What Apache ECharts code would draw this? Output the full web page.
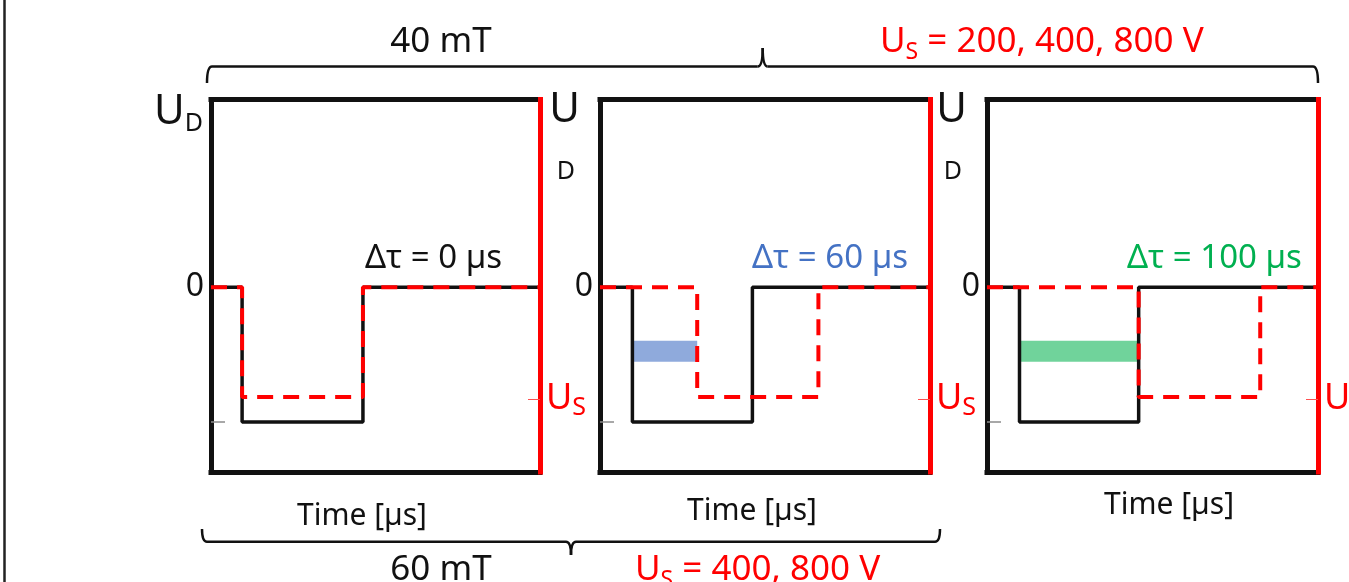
<!DOCTYPE html>
<html>
<head>
<meta charset="utf-8">
<script src="https://cdn.jsdelivr.net/npm/echarts@6/dist/echarts.min.js"></script>
<style>
html,body{margin:0;padding:0;background:#fff;}
#chart{width:1349px;height:582px;}
</style>
</head>
<body>
<div id="chart"></div>
<script>
// ---- data ----
const timeRange = [0, 275];          // µs (arbitrary scale)
const voltRange = [-185, 188];       // arbitrary units
const blackLowLevel = -135;          // discharge voltage level (U_D pulse)
const redLowLevel = -110;            // substrate bias level (U_S)
const barLevel = -64;
const deltaTauLabels = ['Δτ = 0 µs', 'Δτ = 60 µs', 'Δτ = 100 µs'];
const deltaTauColors = ['#111111', '#4472c4', '#00b050'];
const barColors = [null, '#8faadc', '#70d39b'];

const panel1Black = [[0,0],[26,0],[26,-135],[127,-135],[127,0],[275,0]];
const panel1Red   = [[0,0],[26,0],[26,-110],[127,-110],[127,0],[275,0]];
const panel2Black = [[0,0],[27,0],[27,-135],[127,-135],[127,0],[275,0]];
const panel2Red   = [[0,0],[81,0],[81,-110],[182,-110],[182,0],[275,0]];
const panel2Bar   = [[27,-64],[81,-64]];
const panel3Black = [[0,0],[27,0],[27,-135],[126,-135],[126,0],[275,0]];
const panel3Red   = [[0,0],[126,0],[126,-110],[227,-110],[227,0],[275,0]];
const panel3Bar   = [[27,-64],[126,-64]];

const blackSeries = [panel1Black, panel2Black, panel3Black];
const redSeries = [panel1Red, panel2Red, panel3Red];
const barSeries = [null, panel2Bar, panel3Bar];

// ---- layout ----
const grids = [
  {left:211, top:99.5, width:329, height:372.5, outerBoundsMode:'none', containLabel:false},
  {left:600, top:99.5, width:330, height:372.5, outerBoundsMode:'none', containLabel:false},
  {left:987, top:99.5, width:331, height:372.5, outerBoundsMode:'none', containLabel:false}
];
const namePad = [[0,27,0,0],[0,26,0,0],[0,0,0,33]];
const nameGaps = [26, 21, 15];

const chart = echarts.init(document.getElementById('chart'), null, {renderer:'canvas'});

const xAxes = [], yAxes = [], series = [];
grids.forEach((g, i) => {
  xAxes.push({
    type:'value', gridIndex:i, min:timeRange[0], max:timeRange[1], position:'bottom',
    axisLine:{show:true, onZero:false, lineStyle:{color:'#111', width:5, cap:'square'}},
    axisTick:{show:false}, axisLabel:{show:false}, splitLine:{show:false},
    name:'Time [µs]', nameLocation:'middle', nameGap:nameGaps[i],
    nameTextStyle:{fontFamily:'Noto Sans', fontSize:30, color:'#111', lineHeight:36, padding:namePad[i]}
  });
  xAxes.push({
    type:'value', gridIndex:i, min:timeRange[0], max:timeRange[1], position:'top',
    axisLine:{show:true, onZero:false, lineStyle:{color:'#111', width:5, cap:'square'}},
    axisTick:{show:false}, axisLabel:{show:false}, splitLine:{show:false}
  });
  const udVal = i === 0 ? 175 : 132;
  yAxes.push({
    type:'value', gridIndex:i, min:voltRange[0], max:voltRange[1], position:'left',
    axisLine:{show:true, onZero:false, lineStyle:{color:'#111', width:5, cap:'square'}},
    axisTick:{show:true, inside:true, length:14, customValues:[blackLowLevel], lineStyle:{color:'#8c8c8c', width:1.5}},
    axisLabel:{
      show:true, customValues:[0, udVal], margin: i === 0 ? 8 : 20,
      fontFamily:'Noto Sans', color:'#111',
      formatter:function(v){
        if (v === 0) return '{z|0}';
        return i === 0 ? '{u|U}{d|D}' : '{u|U}\n{d|D}';
      },
      rich: i === 0 ? {
        z:{fontSize:32, fontFamily:'Noto Sans', color:'#111', padding:[0,-1,0,0]},
        u:{fontSize:42, fontFamily:'Noto Sans', color:'#111', lineHeight:44},
        d:{fontSize:25, fontFamily:'Noto Sans', color:'#111', padding:[22,0,0,0]}
      } : {
        z:{fontSize:32, fontFamily:'Noto Sans', color:'#111', padding:[0,-13,0,0]},
        u:{fontSize:42, fontFamily:'Noto Sans', color:'#111', lineHeight:32},
        d:{fontSize:25, fontFamily:'Noto Sans', color:'#111', lineHeight:90, padding:[0,5,0,0]}
      }
    },
    splitLine:{show:false}
  });
  yAxes.push({
    type:'value', gridIndex:i, min:voltRange[0], max:voltRange[1], position:'right', z:5,
    axisLine:{show:true, onZero:false, lineStyle:{color:'#ff0000', width:5, cap:'square'}},
    axisTick:{show:true, inside:true, length:12, customValues:[-112], lineStyle:{color:'#ff5050', width:1}},
    axisLabel:{
      show:true, customValues:[-112], margin:6,
      formatter:function(){ return '{u|U}{s|S}'; },
      rich:{
        u:{fontSize:36, fontFamily:'Noto Sans', color:'#ff0000'},
        s:{fontSize:25, fontFamily:'Noto Sans', color:'#ff0000', padding:[18,0,0,0]}
      }
    },
    splitLine:{show:false}
  });
  if (barSeries[i]) {
    series.push({
      type:'line', xAxisIndex:2*i, yAxisIndex:2*i, data:barSeries[i], symbol:'none',
      lineStyle:{color:barColors[i], width:21, cap:'butt'}, z:1, silent:true
    });
  }
  series.push({
    type:'line', xAxisIndex:2*i, yAxisIndex:2*i, data:blackSeries[i], symbol:'none',
    lineStyle:{color:'#111', width:3.5}, z:2, silent:true
  });
  series.push({
    type:'line', xAxisIndex:2*i, yAxisIndex:2*i, data:redSeries[i], symbol:'none',
    lineStyle:{color:'#ff0000', width:4, type:[16,10]}, z:3, silent:true
  });
});

const braceStyle = {fill:null, stroke:'#111', lineWidth:2.5};
function brace(xl, xm, xr, yLine, yEnd, yTip) {
  return {
    type:'group', children:[
      {type:'bezierCurve', shape:{x1:xl, y1:yEnd, x2:xl+5, y2:yLine, cpx1:xl, cpy1:yLine}, style:braceStyle},
      {type:'line', shape:{x1:xl+5, y1:yLine, x2:xm-5, y2:yLine}, style:braceStyle},
      {type:'bezierCurve', shape:{x1:xm-5, y1:yLine, x2:xm, y2:yTip, cpx1:xm, cpy1:yLine}, style:braceStyle},
      {type:'bezierCurve', shape:{x1:xm, y1:yTip, x2:xm+5, y2:yLine, cpx1:xm, cpy1:yLine}, style:braceStyle},
      {type:'line', shape:{x1:xm+5, y1:yLine, x2:xr-5, y2:yLine}, style:braceStyle},
      {type:'bezierCurve', shape:{x1:xr-5, y1:yLine, x2:xr, y2:yEnd, cpx1:xr, cpy1:yLine}, style:braceStyle}
    ]
  };
}

const dtX = [365, 752, 1127];
const usRich = {u:{fill:'#ff0000', fontSize:35, fontFamily:'Noto Sans'}, s:{fill:'#ff0000', fontSize:23, fontFamily:'Noto Sans', padding:[20,0,0,0]}};
const graphics = [
  {type:'line', shape:{x1:4.5, y1:0, x2:4.5, y2:582}, style:{stroke:'#222', lineWidth:2.5}},
  brace(207, 762.7, 1318, 66.5, 83, 48),
  brace(202, 571, 940, 541.7, 529, 555),
  {type:'text', x:441, y:42, style:{text:'40 mT', fill:'#111', font:'35px "Noto Sans"', align:'center', verticalAlign:'middle'}},
  {type:'text', x:441, y:570, style:{text:'60 mT', fill:'#111', font:'35px "Noto Sans"', align:'center', verticalAlign:'middle'}},
  {type:'text', x:880, y:42, style:{text:'{u|U}{s|S}{u| = 200, 400, 800 V}', align:'left', verticalAlign:'middle', rich:usRich}},
  {type:'text', x:635, y:570, style:{text:'{u|U}{s|S}{u| = 400, 800 V}', align:'left', verticalAlign:'middle', rich:usRich}}
];
deltaTauLabels.forEach((t, i) => {
  graphics.push({type:'text', x:dtX[i], y:259, style:{text:t, fill:deltaTauColors[i], font:'33px "Noto Sans"', align:'left', verticalAlign:'middle'}});
});

chart.setOption({
  animation:false,
  backgroundColor:'#ffffff',
  grid:grids,
  xAxis:xAxes,
  yAxis:yAxes,
  series:series,
  graphic:graphics
});
</script>
</body>
</html>
